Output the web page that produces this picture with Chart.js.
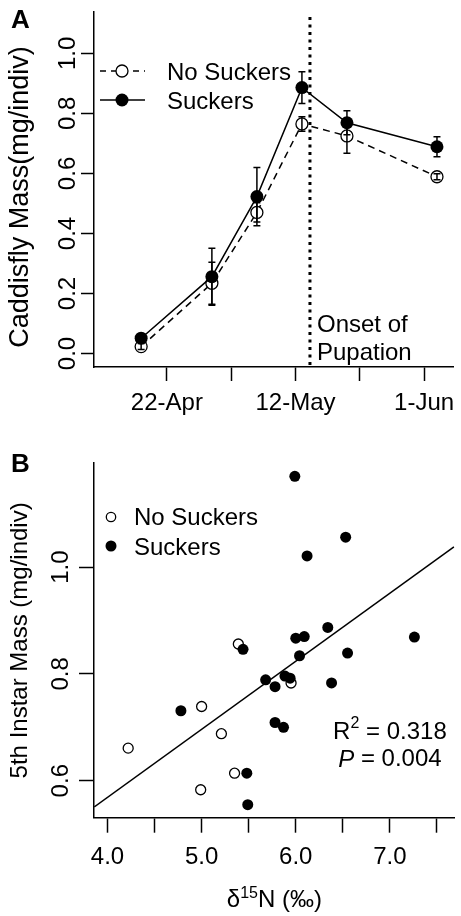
<!DOCTYPE html>
<html>
<head>
<meta charset="utf-8">
<script src="https://cdn.jsdelivr.net/npm/chart.js@4/dist/chart.umd.min.js"></script>
<style>
  html, body { margin: 0; padding: 0; background: #fff; }
  #wrap { position: relative; width: 461px; height: 916px; }
  canvas { position: absolute; left: 0; }
</style>
</head>
<body>
<div id="wrap">
  <canvas id="massChart" width="461" height="440" style="top:0"></canvas>
  <canvas id="isotopeChart" width="461" height="476" style="top:440px"></canvas>
</div>
<script>
// panel A: caddisfly mass through the season (x = day of year)
var sampleDays = [108, 119, 126, 133, 140, 154];
var noSuckersMass = [0.023, 0.234, 0.470, 0.765, 0.725, 0.589];
var noSuckersSE = [0.010, 0.070, 0.032, 0.024, 0.058, 0.010];
var suckersMass = [0.051, 0.256, 0.523, 0.886, 0.769, 0.689];
var suckersSE = [0.010, 0.095, 0.097, 0.053, 0.040, 0.033];
var dayTicks = [112, 122, 132, 142, 152];
var dayTickLabels = ['22-Apr', '', '12-May', '', '1-Jun'];
var massTicks = [0, 0.2, 0.4, 0.6, 0.8, 1.0];
var pupationDay = 134.25;

// panel B: 5th instar mass vs d15N
var noSuckersN15 = [4.22, 4.99, 5.00, 5.21, 5.35, 5.39, 5.95];
var noSuckersInstar = [0.661, 0.583, 0.739, 0.688, 0.614, 0.856, 0.783];
var suckersN15 = [4.78, 5.44, 5.48, 5.49, 5.68, 5.78, 5.78, 5.87, 5.885, 5.94,
                  5.99, 6.00, 6.04, 6.09, 6.12, 6.34, 6.38, 6.53, 6.55, 7.26];
var suckersInstar = [0.731, 0.846, 0.614, 0.555, 0.789, 0.776, 0.709, 0.700, 0.796, 0.792,
                     1.170, 0.867, 0.834, 0.870, 1.021, 0.887, 0.783, 1.056, 0.839, 0.869];
var fitN15 = [3.86, 7.68];
var fitInstar = [0.551, 1.038];
var n15Ticks = [4.0, 4.5, 5.0, 5.5, 6.0, 6.5, 7.0, 7.5];
var n15TickLabels = ['4.0', '', '5.0', '', '6.0', '', '7.0', ''];
var instarTicks = [0.6, 0.8, 1.0];

var FAMILY = '"Liberation Sans", Arial, Helvetica, sans-serif';
function font(size, style) {
    return (style ? style + ' ' : '') + size + 'px ' + FAMILY;
}

function points(xs, ys) {
    return xs.map(function (x, i) { return { x: x, y: ys[i] }; });
}

function rotatedText(ctx, text, x, y) {
    ctx.save();
    ctx.translate(x, y);
    ctx.rotate(-Math.PI / 2);
    ctx.textAlign = 'center';
    ctx.textBaseline = 'alphabetic';
    ctx.fillText(text, 0, 0);
    ctx.restore();
}

// pieces: [{text, font, dy}] drawn in a row, centred on cx
function pieceText(ctx, pieces, cx, y) {
    var total = 0;
    pieces.forEach(function (p) { ctx.font = p.font; p.w = ctx.measureText(p.text).width; total += p.w; });
    var x = cx - total / 2;
    ctx.textAlign = 'left';
    pieces.forEach(function (p) {
        ctx.font = p.font;
        ctx.fillText(p.text, x, y + (p.dy || 0));
        x += p.w;
    });
}

function circle(ctx, x, y, r, filled) {
    ctx.beginPath();
    ctx.arc(x, y, r, 0, Math.PI * 2);
    ctx.fillStyle = filled ? '#000' : '#fff';
    ctx.fill();
    if (!filled) { ctx.lineWidth = 1.3; ctx.strokeStyle = '#000'; ctx.stroke(); }
}

function axisStyle(min, max, tickValues, fitSize, tickLength, horizontal) {
    return {
        type: 'linear',
        min: min,
        max: max,
        afterBuildTicks: function (axis) {
            axis.ticks = tickValues.map(function (v) { return { value: v }; });
        },
        afterFit: function (axis) {
            if (horizontal) { axis.height = fitSize; } else { axis.width = fitSize; }
        },
        ticks: { display: false },
        grid: { display: true, drawOnChartArea: false, drawTicks: true,
                tickLength: tickLength, tickWidth: 1.5, tickColor: '#000' },
        border: { display: true, color: '#000', width: 1.5 }
    };
}

var massDecor = {
    id: 'massDecor',
    beforeDatasetsDraw: function (chart) {
        var ctx = chart.ctx, area = chart.chartArea;
        var px = chart.scales.x.getPixelForValue(pupationDay);
        ctx.save();
        ctx.strokeStyle = '#000';
        ctx.lineWidth = 3;
        ctx.setLineDash([3, 4.5]);
        ctx.beginPath();
        ctx.moveTo(px, area.top + 5);
        ctx.lineTo(px, area.bottom);
        ctx.stroke();
        ctx.restore();
    },
    afterDatasetsDraw: function (chart) {
        var ctx = chart.ctx, xs = chart.scales.x, ys = chart.scales.y;
        var bars = [[suckersMass, suckersSE], [noSuckersMass, noSuckersSE]];
        ctx.save();
        ctx.strokeStyle = '#000';
        ctx.lineWidth = 1.5;
        bars.forEach(function (b) {
            sampleDays.forEach(function (d, i) {
                var x = xs.getPixelForValue(d);
                var top = ys.getPixelForValue(b[0][i] + b[1][i]);
                var bot = ys.getPixelForValue(b[0][i] - b[1][i]);
                ctx.beginPath();
                ctx.moveTo(x, top); ctx.lineTo(x, bot);
                ctx.moveTo(x - 3.5, top); ctx.lineTo(x + 3.5, top);
                ctx.moveTo(x - 3.5, bot); ctx.lineTo(x + 3.5, bot);
                ctx.stroke();
            });
        });
        ctx.restore();
    },
    afterDraw: function (chart) {
        var ctx = chart.ctx, xs = chart.scales.x, ys = chart.scales.y, area = chart.chartArea;
        ctx.save();
        ctx.fillStyle = '#000';
        ctx.font = font(24);
        ctx.textAlign = 'center';
        ctx.textBaseline = 'alphabetic';
        dayTicks.forEach(function (d, i) {
            if (dayTickLabels[i]) { ctx.fillText(dayTickLabels[i], xs.getPixelForValue(d), area.bottom + 43); }
        });
        massTicks.forEach(function (v) {
            rotatedText(ctx, v.toFixed(1), 75, ys.getPixelForValue(v));
        });
        ctx.font = font(27);
        rotatedText(ctx, 'Caddisfly Mass(mg/indiv)', 27.5, 197);
        ctx.font = font(24);

        // onset of pupation note
        ctx.textAlign = 'left';
        ctx.textBaseline = 'middle';
        ctx.fillText('Onset of', xs.getPixelForValue(pupationDay) + 7, ys.getPixelForValue(0.095));
        ctx.fillText('Pupation', xs.getPixelForValue(pupationDay) + 7, ys.getPixelForValue(0.0));

        // legend
        var lx = area.left + 6, ly = 71;
        ctx.strokeStyle = '#000';
        ctx.lineWidth = 1.5;
        ctx.setLineDash([6, 5]);
        ctx.beginPath(); ctx.moveTo(lx, ly); ctx.lineTo(lx + 45, ly); ctx.stroke();
        ctx.setLineDash([]);
        ctx.beginPath(); ctx.moveTo(lx, ly + 29); ctx.lineTo(lx + 45, ly + 29); ctx.stroke();
        circle(ctx, lx + 22, ly, 6, false);
        circle(ctx, lx + 22, ly + 29, 6.5, true);
        ctx.fillStyle = '#000';
        ctx.textBaseline = 'alphabetic';
        ctx.fillText('No Suckers', lx + 67, ly + 9);
        ctx.fillText('Suckers', lx + 67, ly + 38);

        ctx.font = font(26, 'bold');
        ctx.fillText('A', 11, 28);
        ctx.restore();
    }
};

var isotopeDecor = {
    id: 'isotopeDecor',
    afterDraw: function (chart) {
        var ctx = chart.ctx, xs = chart.scales.x, ys = chart.scales.y, area = chart.chartArea;
        ctx.save();
        ctx.fillStyle = '#000';
        ctx.font = font(24);
        ctx.textAlign = 'center';
        ctx.textBaseline = 'alphabetic';
        n15Ticks.forEach(function (v, i) {
            if (n15TickLabels[i]) { ctx.fillText(n15TickLabels[i], xs.getPixelForValue(v), area.bottom + 46); }
        });
        instarTicks.forEach(function (v) {
            rotatedText(ctx, v.toFixed(1), 68, ys.getPixelForValue(v));
        });
        rotatedText(ctx, '5th Instar Mass (mg/indiv)', 27, (area.top + area.bottom) / 2);

        pieceText(ctx, [
            { text: '\u03b4', font: font(24) },
            { text: '15', font: font(16), dy: -9 },
            { text: 'N (\u2030)', font: font(24) }
        ], (area.left + area.right) / 2, area.bottom + 89);

        // fit statistics
        ctx.textBaseline = 'middle';
        pieceText(ctx, [
            { text: 'R', font: font(24) },
            { text: '2', font: font(16), dy: -9 },
            { text: ' = 0.318', font: font(24) }
        ], xs.getPixelForValue(7.0), ys.getPixelForValue(0.69));
        pieceText(ctx, [
            { text: 'P', font: font(24, 'italic') },
            { text: ' = 0.004', font: font(24) }
        ], xs.getPixelForValue(7.0), ys.getPixelForValue(0.639));

        // legend
        var lx = 111, ly = 77;
        circle(ctx, lx, ly, 4.7, false);
        circle(ctx, lx, ly + 29, 5.5, true);
        ctx.fillStyle = '#000';
        ctx.font = font(24);
        ctx.textAlign = 'left';
        ctx.textBaseline = 'alphabetic';
        ctx.fillText('No Suckers', lx + 23, ly + 8);
        ctx.fillText('Suckers', lx + 23, ly + 38);

        ctx.font = font(26, 'bold');
        ctx.fillText('B', 11, 32);
        ctx.restore();
    }
};

document.addEventListener('DOMContentLoaded', function () {
    var massCtx = document.getElementById('massChart').getContext('2d');
    var isotopeCtx = document.getElementById('isotopeChart').getContext('2d');

    new Chart(massCtx, {
        type: 'scatter',
        data: {
            datasets: [{
                label: 'Suckers',
                data: points(sampleDays, suckersMass),
                showLine: true,
                borderColor: '#000',
                borderWidth: 1.5,
                pointRadius: 6.5,
                pointBackgroundColor: '#000',
                pointBorderWidth: 0,
                order: 0
            }, {
                label: 'No Suckers',
                data: points(sampleDays, noSuckersMass),
                showLine: true,
                borderColor: '#000',
                borderWidth: 1.5,
                borderDash: [7, 5],
                pointRadius: 6,
                pointBackgroundColor: '#fff',
                pointBorderColor: '#000',
                pointBorderWidth: 1.3,
                order: 1
            }]
        },
        options: {
            responsive: false,
            devicePixelRatio: 1,
            animation: false,
            events: [],
            layout: { padding: { top: 12, right: 0, bottom: 0, left: 0 } },
            scales: {
                x: axisStyle(100.67, 156.6, dayTicks, 73, 14, true),
                y: axisStyle(-0.045, 1.138, massTicks, 94, 13, false)
            },
            plugins: { legend: { display: false }, tooltip: { enabled: false } }
        },
        plugins: [massDecor]
    });

    new Chart(isotopeCtx, {
        type: 'scatter',
        data: {
            datasets: [{
                label: 'Suckers',
                data: points(suckersN15, suckersInstar),
                pointRadius: 5.5,
                pointBackgroundColor: '#000',
                pointBorderWidth: 0,
                order: 0
            }, {
                label: 'No Suckers',
                data: points(noSuckersN15, noSuckersInstar),
                pointRadius: 5,
                pointBackgroundColor: '#fff',
                pointBorderColor: '#000',
                pointBorderWidth: 1.3,
                order: 1
            }, {
                label: 'fit',
                data: points(fitN15, fitInstar),
                showLine: true,
                borderColor: '#000',
                borderWidth: 1.5,
                pointRadius: 0,
                order: 2
            }]
        },
        options: {
            responsive: false,
            devicePixelRatio: 1,
            animation: false,
            events: [],
            layout: { padding: { top: 23, right: 0, bottom: 0, left: 0 } },
            scales: {
                x: axisStyle(3.857, 7.688, n15Ticks, 98.3, 15, true),
                y: axisStyle(0.5307, 1.195, instarTicks, 94, 15, false)
            },
            plugins: { legend: { display: false }, tooltip: { enabled: false } }
        },
        plugins: [isotopeDecor]
    });
});
</script>
</body>
</html>
